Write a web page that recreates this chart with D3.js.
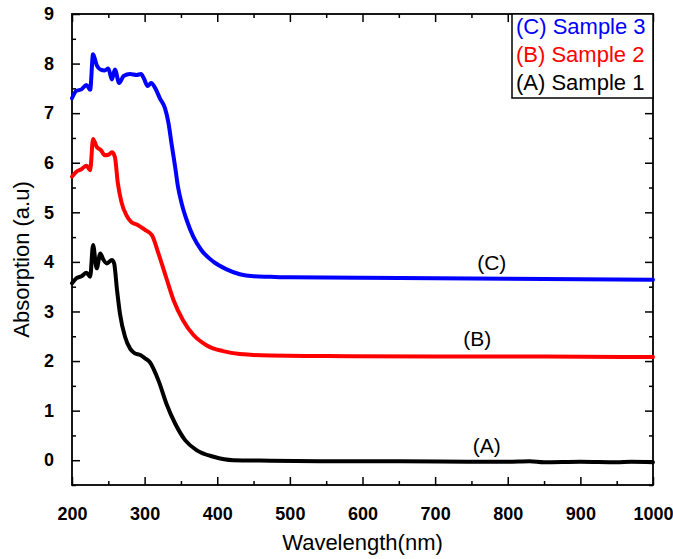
<!DOCTYPE html>
<html>
<head>
<meta charset="utf-8">
<script src="https://cdn.jsdelivr.net/npm/d3@7/dist/d3.min.js"></script>
<style>
  html, body { margin: 0; padding: 0; background: #fff; }
  svg { display: block; font-family: "Liberation Sans", Arial, sans-serif; }
</style>
</head>
<body>
<svg id="chart" width="673" height="559"></svg>
<script>
// ---------- data ----------
const xTicks = [200, 300, 400, 500, 600, 700, 800, 900, 1000];
const yTicks = [0, 1, 2, 3, 4, 5, 6, 7, 8, 9];

const sample1Wl  = [200, 206, 213, 220, 225, 229, 234, 239, 243, 248, 255, 258, 262, 266, 273, 280, 286, 294, 300, 307, 319, 330, 342, 356, 372, 395, 422, 473, 550, 650, 750, 800, 830, 850, 900, 950, 970, 1000];
const sample1Abs = [3.57, 3.67, 3.71, 3.78, 3.70, 4.34, 3.87, 4.17, 4.05, 3.97, 4.04, 3.97, 3.43, 2.96, 2.49, 2.25, 2.16, 2.12, 2.06, 1.98, 1.61, 1.14, 0.74, 0.40, 0.20, 0.07, 0.00, -0.01, -0.02, -0.02, -0.03, -0.03, -0.02, -0.04, -0.03, -0.04, -0.03, -0.04];

const sample2Wl  = [200, 206, 213, 220, 225, 229, 234, 240, 245, 250, 255, 259, 263, 268, 275, 282, 291, 300, 310, 319, 330, 340, 353, 367, 385, 408, 431, 473, 550, 700, 850, 1000];
const sample2Abs = [5.72, 5.82, 5.87, 5.94, 5.85, 6.48, 6.32, 6.25, 6.15, 6.16, 6.21, 6.12, 5.60, 5.21, 4.94, 4.80, 4.74, 4.65, 4.54, 4.17, 3.67, 3.22, 2.82, 2.53, 2.32, 2.20, 2.14, 2.11, 2.10, 2.09, 2.09, 2.08];

const sample3Wl  = [200, 206, 213, 220, 225, 229, 234, 239, 245, 250, 255, 259, 265, 271, 280, 289, 295, 299, 304, 309, 314, 321, 328, 333, 337, 342, 346, 351, 358, 367, 378, 395, 413, 431, 450, 473, 500, 600, 700, 800, 900, 1000];
const sample3Abs = [7.30, 7.45, 7.48, 7.57, 7.47, 8.19, 7.97, 7.88, 7.86, 7.90, 7.68, 7.88, 7.61, 7.75, 7.79, 7.77, 7.79, 7.70, 7.55, 7.61, 7.52, 7.30, 7.10, 6.79, 6.39, 5.92, 5.51, 5.18, 4.84, 4.51, 4.24, 4.00, 3.85, 3.75, 3.71, 3.70, 3.69, 3.68, 3.67, 3.66, 3.65, 3.64];

const seriesNames  = ["(C) Sample 3", "(B) Sample 2", "(A) Sample 1"];
const seriesTags   = ["(C)", "(B)", "(A)"];
const seriesColors = ["#0000ff", "#ff0000", "#000000"];
const tagWl  = [778, 758, 771];
const tagAbs = [3.83, 2.30, 0.14];

// ---------- layout ----------
const svg = d3.select("#chart");
const X0 = 72, X1 = 653, Y0 = 14, Y1 = 485;

const x = d3.scaleLinear().domain([200, 1000]).range([X0, X1]);
const y = d3.scaleLinear().domain([-0.5, 9]).range([Y1, Y0]);

const series = [
  { wl: sample3Wl, abs: sample3Abs },
  { wl: sample2Wl, abs: sample2Abs },
  { wl: sample1Wl, abs: sample1Abs }
];

// ---------- axes ----------
const minorX = d3.range(250, 1000, 100);
const minorY = d3.range(-0.5, 9, 1);

function styleAxis(g) {
  g.select(".domain").remove();
  g.selectAll(".tick line").attr("stroke", "#000").attr("stroke-width", 1.5);
}

// bottom
svg.append("g").attr("transform", `translate(0,${Y1})`)
  .call(d3.axisBottom(x).tickValues(xTicks).tickSize(-8).tickPadding(22).tickFormat(d3.format("d")))
  .call(styleAxis)
  .call(g => g.selectAll("text").attr("font-size", 18).attr("font-weight", "bold")
    .attr("font-family", "Liberation Sans, Arial, sans-serif").attr("fill", "#000"));
svg.append("g").attr("transform", `translate(0,${Y1})`)
  .call(d3.axisBottom(x).tickValues(minorX).tickSize(-4).tickFormat(""))
  .call(styleAxis);
// top
svg.append("g").attr("transform", `translate(0,${Y0})`)
  .call(d3.axisTop(x).tickValues(xTicks).tickSize(-8).tickFormat(""))
  .call(styleAxis);
svg.append("g").attr("transform", `translate(0,${Y0})`)
  .call(d3.axisTop(x).tickValues(minorX).tickSize(-4).tickFormat(""))
  .call(styleAxis);
// left
svg.append("g").attr("transform", `translate(${X0},0)`)
  .call(d3.axisLeft(y).tickValues(yTicks).tickSize(-8).tickPadding(18).tickFormat(d3.format("d")))
  .call(styleAxis)
  .call(g => g.selectAll("text").attr("font-size", 18).attr("font-weight", "bold")
    .attr("font-family", "Liberation Sans, Arial, sans-serif").attr("fill", "#000"));
svg.append("g").attr("transform", `translate(${X0},0)`)
  .call(d3.axisLeft(y).tickValues(minorY).tickSize(-4).tickFormat(""))
  .call(styleAxis);
// right
svg.append("g").attr("transform", `translate(${X1},0)`)
  .call(d3.axisRight(y).tickValues(yTicks).tickSize(-8).tickFormat(""))
  .call(styleAxis);
svg.append("g").attr("transform", `translate(${X1},0)`)
  .call(d3.axisRight(y).tickValues(minorY).tickSize(-4).tickFormat(""))
  .call(styleAxis);

// frame
svg.append("rect").attr("x", X0).attr("y", Y0).attr("width", X1 - X0).attr("height", Y1 - Y0)
  .attr("fill", "none").attr("stroke", "#000").attr("stroke-width", 1.8);

// ---------- lines ----------
const line = d3.line().curve(d3.curveMonotoneX)
  .x(d => x(d[0])).y(d => y(d[1]));

series.forEach((s, i) => {
  const pts = s.wl.map((w, k) => [w, s.abs[k]]);
  svg.append("path").datum(pts)
    .attr("d", line)
    .attr("fill", "none")
    .attr("stroke", seriesColors[i])
    .attr("stroke-width", 4)
    .attr("stroke-linejoin", "round")
    .attr("stroke-linecap", "round");
});

// ---------- in-plot tags ----------
seriesTags.forEach((t, i) => {
  svg.append("text").attr("x", x(tagWl[i])).attr("y", y(tagAbs[i]))
    .attr("text-anchor", "middle").attr("font-size", 21).attr("fill", "#000").text(t);
});

// ---------- axis titles ----------
svg.append("text").attr("x", (X0 + X1) / 2).attr("y", 550)
  .attr("text-anchor", "middle").attr("font-size", 22).attr("fill", "#000").text("Wavelength(nm)");
svg.append("text").attr("transform", `translate(29,${(Y0 + Y1) / 2 + 10}) rotate(-90)`)
  .attr("text-anchor", "middle").attr("font-size", 22).attr("fill", "#000").text("Absorption (a.u)");

// ---------- legend ----------
const lg = svg.append("g");
lg.append("rect").attr("x", 512).attr("y", Y0).attr("width", X1 - 512).attr("height", 84)
  .attr("fill", "#fff").attr("stroke", "#000").attr("stroke-width", 1.5);
seriesNames.forEach((n, i) => {
  lg.append("text").attr("x", 516).attr("y", 34 + i * 28)
    .attr("font-size", 22).attr("fill", seriesColors[i]).text(n);
});
</script>
</body>
</html>
